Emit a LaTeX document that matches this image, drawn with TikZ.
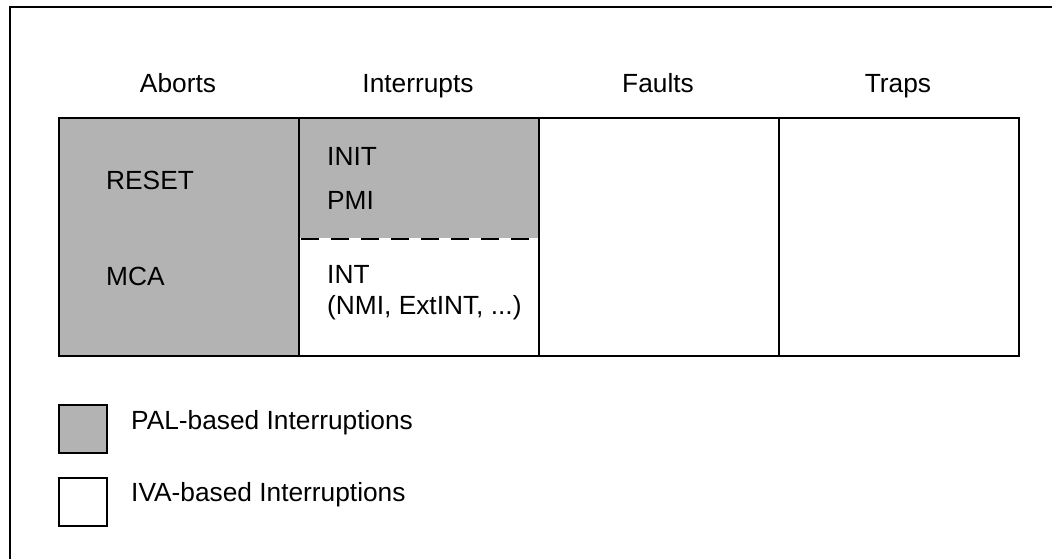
\documentclass[tikz,border=0pt]{standalone}
\usepackage{fontspec}
\setmainfont{Liberation Sans}
\definecolor{palgray}{RGB}{179,179,179}
\usetikzlibrary{positioning}

\begin{document}
\begin{tikzpicture}[
  x=1pt, y=-1pt,
  font=\fontsize{26.3}{31}\selectfont,
  cell/.style={draw, line width=2pt, minimum width=240pt, anchor=north west,
               inner sep=0pt},
  key/.style={draw, line width=1.6pt, minimum width=48pt, minimum height=48pt,
              anchor=north west, inner sep=0pt},
  head/.style={anchor=base},
  lbl/.style={anchor=base west, inner sep=0pt},
]
\useasboundingbox (0,0) rectangle (1057,559);

% --- Frame (top and left edges only) ---
\draw[line width=1.2pt] (10,559) -- (10,7) -- (1052,7);

% --- Column headers ---
\node[head] (hab) at (178,93) {Aborts};
\node[head] (hin) at (418,93) {Interrupts};
\node[head] (hfa) at (658,93) {Faults};
\node[head] (htr) at (898,93) {Traps};

% --- Table cells ---
\node[cell, fill=palgray, minimum height=238pt] (aborts) at (58,117) {};
\node[cell, fill=palgray, minimum height=120pt, draw=none] (palint) at (298,117) {};
\node[cell, minimum height=238pt, fill=none] (ints) at (298,117) {};
\node[cell, minimum height=238pt] (faults) at (538,117) {};
\node[cell, minimum height=238pt] (traps) at (778,117) {};

% --- Split between PAL and IVA interrupts ---
\draw[line width=2pt, dash pattern=on 18pt off 12pt, dash phase=-3pt]
  (palint.south west) -- (palint.south east);

% --- Cell entries ---
\node[lbl] (reset) at (106,189) {RESET};
\node[lbl] (mca)   at (106,285) {MCA};
\node[lbl] (init)  at (327,165) {INIT};
\node[lbl] (pmi)   at (327,209) {PMI};
\node[lbl] (int)   at (327,283) {INT};
\node[lbl] (ext)   at (327,314) {(NMI, ExtINT, ...)};

% --- Legend ---
\node[key, fill=palgray] (kpal) at (58,404) {};
\node[key] (kiva) at (58,477) {};
\node[lbl] (tpal) at (131,429) {PAL-based Interruptions};
\node[lbl] (tiva) at (131,501) {IVA-based Interruptions};

\end{tikzpicture}
\end{document}
